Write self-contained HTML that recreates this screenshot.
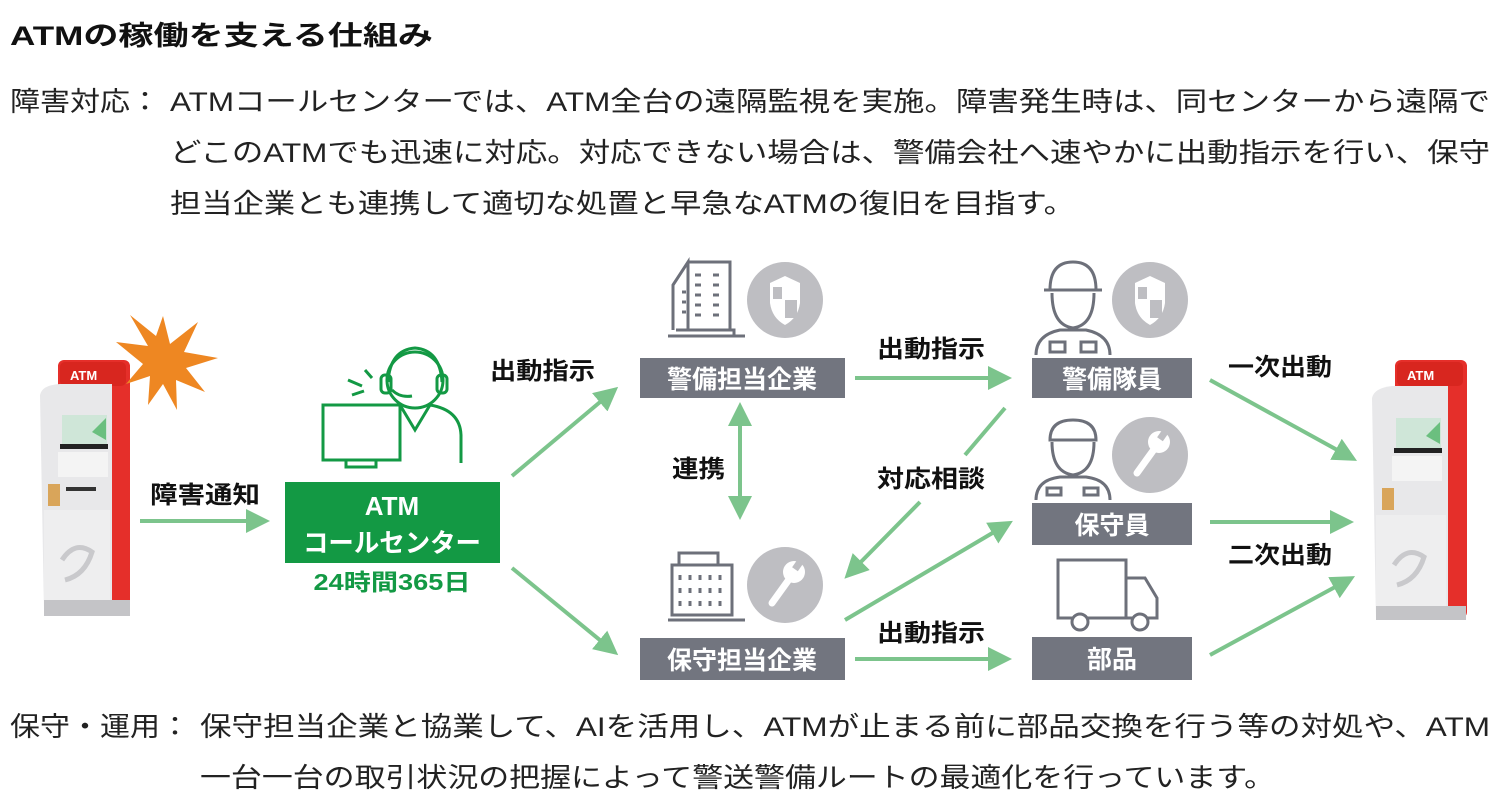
<!DOCTYPE html>
<html><head><meta charset="utf-8">
<style>
html,body{margin:0;padding:0;background:#fff;}
svg{display:block;}
text{font-family:"Liberation Sans","Noto Sans CJK JP",sans-serif;}
</style></head>
<body>
<svg width="1500" height="808" viewBox="0 0 1500 808" xmlns="http://www.w3.org/2000/svg">
<defs>
<marker id="ah" markerWidth="6" markerHeight="6" refX="4" refY="3" orient="auto" markerUnits="strokeWidth">
<path d="M0,0 L6,3 L0,6 Z" fill="#7cc48c"/>
</marker>
<marker id="ahs" markerWidth="6" markerHeight="6" refX="2" refY="3" orient="auto-start-reverse" markerUnits="strokeWidth">
<path d="M0,0 L6,3 L0,6 Z" fill="#7cc48c"/>
</marker>
</defs>

<text x="10" y="45" font-size="27" font-weight="bold" fill="#111" textLength="423" lengthAdjust="spacingAndGlyphs">ATMの稼働を支える仕組み</text>

<g font-size="27" fill="#222">
<text x="10" y="111" textLength="150" lengthAdjust="spacingAndGlyphs">障害対応：</text>
<text x="170" y="111" textLength="1320" lengthAdjust="spacingAndGlyphs">ATMコールセンターでは、ATM全台の遠隔監視を実施。障害発生時は、同センターから遠隔で</text>
<text x="170" y="162" textLength="1320" lengthAdjust="spacingAndGlyphs">どこのATMでも迅速に対応。対応できない場合は、警備会社へ速やかに出動指示を行い、保守</text>
<text x="170" y="213" textLength="905" lengthAdjust="spacingAndGlyphs">担当企業とも連携して適切な処置と早急なATMの復旧を目指す。</text>
<text x="10" y="736" textLength="180" lengthAdjust="spacingAndGlyphs">保守・運用：</text>
<text x="200" y="736" textLength="1290" lengthAdjust="spacingAndGlyphs">保守担当企業と協業して、AIを活用し、ATMが止まる前に部品交換を行う等の対処や、ATM</text>
<text x="200" y="787" textLength="1075" lengthAdjust="spacingAndGlyphs">一台一台の取引状況の把握によって警送警備ルートの最適化を行っています。</text>
</g>

<!-- Left ATM -->
<g>
<rect x="58" y="360" width="72" height="250" rx="6" fill="#e52f2a"/>
<rect x="60" y="362" width="66" height="24" rx="5" fill="#d8261f"/>
<text x="70" y="380" font-size="13" font-weight="bold" fill="#fff">ATM</text>
<path d="M40,395 Q42,385 60,384 L112,384 L112,610 L44,610 Z" fill="#e8e8ea"/>
<rect x="62" y="415" width="45" height="32" fill="#cfe6d8"/>
<path d="M92,432 L106,418 L106,440 Z" fill="#6bbf7f"/>
<rect x="60" y="444" width="48" height="5" fill="#222"/>
<rect x="58" y="452" width="50" height="25" fill="#f4f4f4"/>
<rect x="48" y="484" width="12" height="22" fill="#d9a55a"/>
<rect x="66" y="487" width="30" height="4" fill="#333"/>
<rect x="44" y="510" width="66" height="90" fill="#eeeeef"/>
<path d="M62,560 Q75,540 92,552 Q85,575 65,580" fill="none" stroke="#c9c9cc" stroke-width="5"/>
<rect x="44" y="600" width="86" height="16" fill="#c4c4c7"/>
</g>
<polygon fill="#ee8722" points="163,316 170,344 198,322 184,352 218,358 186,368 205,392 176,380 177,410 163,384 148,405 150,376 126,384 143,364 116,342 148,346 130,315 156,336" />

<!-- Right ATM -->
<g>
<rect x="1395" y="360" width="72" height="258" rx="6" fill="#e52f2a"/>
<rect x="1397" y="362" width="66" height="24" rx="5" fill="#d8261f"/>
<text x="1407" y="380" font-size="13" font-weight="bold" fill="#fff">ATM</text>
<path d="M1372,398 Q1374,388 1392,386 L1448,386 L1448,618 L1376,618 Z" fill="#e8e8ea"/>
<rect x="1396" y="418" width="45" height="32" fill="#cfe6d8"/>
<path d="M1426,436 L1440,422 L1440,444 Z" fill="#6bbf7f"/>
<rect x="1394" y="448" width="48" height="5" fill="#222"/>
<rect x="1392" y="456" width="50" height="25" fill="#f4f4f4"/>
<rect x="1382" y="488" width="12" height="22" fill="#d9a55a"/>
<rect x="1376" y="515" width="70" height="92" fill="#eeeeef"/>
<path d="M1394,565 Q1407,545 1424,557 Q1417,580 1397,585" fill="none" stroke="#c9c9cc" stroke-width="5"/>
<rect x="1376" y="606" width="90" height="14" fill="#c4c4c7"/>
</g>

<!-- Call center icon -->
<g fill="none" stroke="#139944" stroke-width="3">
<rect x="323" y="405" width="77" height="55"/>
<rect x="346" y="460" width="30" height="7"/>
<circle cx="415" cy="380" r="28"/>
<path d="M388,382 Q390,350 415,348 Q440,350 442,382"/>
<rect x="381" y="375" width="10" height="18" rx="4"/>
<rect x="437" y="375" width="10" height="18" rx="4"/>
<path d="M392,390 Q400,398 412,396"/>
<path d="M400,405 L415,430 L430,405"/>
<path d="M430,405 Q460,410 461,435 L461,463"/>
<path d="M365,370 L372,378 M348,380 L362,386 M352,395 L364,391"/>
</g>
<rect x="285" y="482" width="215" height="81" fill="#139944"/>
<text x="392" y="515" font-size="26" font-weight="bold" fill="#fff" text-anchor="middle">ATM</text>
<text x="392" y="552" font-size="26" font-weight="bold" fill="#fff" text-anchor="middle" textLength="178" lengthAdjust="spacingAndGlyphs">コールセンター</text>
<text x="392" y="590" font-size="23" font-weight="bold" fill="#139944" text-anchor="middle" textLength="157" lengthAdjust="spacingAndGlyphs">24時間365日</text>

<g fill="#72757f">
<rect x="640" y="358" width="205" height="40"/>
<rect x="640" y="638" width="205" height="42"/>
<rect x="1032" y="358" width="160" height="40"/>
<rect x="1032" y="503" width="160" height="42"/>
<rect x="1032" y="637" width="160" height="43"/>
</g>
<g font-size="25" font-weight="bold" fill="#fff" text-anchor="middle">
<text x="742" y="388">警備担当企業</text>
<text x="742" y="669">保守担当企業</text>
<text x="1112" y="388">警備隊員</text>
<text x="1112" y="534">保守員</text>
<text x="1112" y="668">部品</text>
</g>

<g fill="none" stroke="#6d707a" stroke-width="3">
<path d="M673,330 L673,285 L688,262 L688,330 M688,262 L730,262 L730,330"/>
<path d="M668,336 L745,336 M676,330 L734,330 L734,336"/>
<path d="M682,292 h4 M682,302 h4 M682,312 h4 M695,275 h6 M695,285 h6 M695,295 h6 M695,305 h6 M695,315 h6 M713,275 h6 M713,285 h6 M713,295 h6 M713,305 h6 M713,315 h6"/>
<rect x="672" y="565" width="60" height="50"/>
<path d="M679,565 L679,553 L718,553 L718,565 M668,620 L745,620"/>
<path d="M680,575 v5 M690,575 v5 M700,575 v5 M710,575 v5 M720,575 v5 M680,588 v5 M690,588 v5 M700,588 v5 M710,588 v5 M720,588 v5 M680,601 v5 M690,601 v5 M700,601 v5 M710,601 v5 M720,601 v5"/>
<path d="M1050,290 Q1050,262 1073,262 Q1096,262 1096,290 M1044,290 L1102,290"/>
<path d="M1052,293 Q1052,325 1073,328 Q1094,325 1094,293"/>
<path d="M1036,355 Q1036,335 1060,330 L1086,330 Q1110,335 1110,355"/>
<rect x="1050" y="342" width="15" height="10"/><rect x="1081" y="342" width="15" height="10"/>
<path d="M1050,440 Q1050,420 1073,420 Q1096,420 1096,440 Z"/>
<path d="M1052,442 Q1052,472 1073,475 Q1094,472 1094,442"/>
<path d="M1036,500 Q1036,480 1060,477 L1086,477 Q1110,480 1110,500"/>
<rect x="1047" y="488" width="14" height="7"/><rect x="1084" y="488" width="14" height="7"/>
<rect x="1058" y="560" width="68" height="58"/>
<path d="M1126,578 L1145,578 L1157,598 L1157,618 L1126,618"/>
<circle cx="1080" cy="622" r="8" fill="#fff"/><circle cx="1140" cy="622" r="8" fill="#fff"/>
</g>
<g fill="#bebec2">
<circle cx="785" cy="300" r="38"/>
<circle cx="785" cy="585" r="38"/>
<circle cx="1150" cy="300" r="38"/>
<circle cx="1150" cy="455" r="38"/>
</g>
<g fill="#fff">
<path d="M770,283 L785,276 L800,283 L800,303 Q798,318 785,325 Q772,318 770,303 Z"/>
<path d="M1135,283 L1150,276 L1165,283 L1165,303 Q1163,318 1150,325 Q1137,318 1135,303 Z"/>
</g>
<g fill="#bebec2"><rect x="785" y="300" width="12" height="18"/><rect x="773" y="287" width="9" height="12"/>
<rect x="1150" y="300" width="12" height="18"/><rect x="1138" y="287" width="9" height="12"/></g>
<g stroke="#fff" stroke-width="7" stroke-linecap="round" fill="none">
<path d="M772,603 L790,578"/><path d="M1137,473 L1155,448"/>
</g>
<g fill="#fff"><circle cx="794" cy="572" r="11"/><circle cx="1159" cy="442" r="11"/></g>
<g fill="#bebec2"><rect x="795" y="558" width="7" height="12" transform="rotate(35 798 564)"/><rect x="1160" y="428" width="7" height="12" transform="rotate(35 1163 434)"/></g>

<g stroke="#7cc48c" stroke-width="4" fill="none" marker-end="url(#ah)">
<line x1="140" y1="521" x2="262" y2="521"/>
<line x1="512" y1="476" x2="612" y2="392"/>
<line x1="512" y1="568" x2="612" y2="650"/>
<line x1="740" y1="418" x2="740" y2="512" marker-start="url(#ahs)"/>
<line x1="855" y1="378" x2="1004" y2="378"/>
<line x1="855" y1="659" x2="1004" y2="659"/>
<line x1="920" y1="502" x2="850" y2="573"/>
<line x1="845" y1="620" x2="1006" y2="525"/>
<line x1="1210" y1="380" x2="1350" y2="457"/>
<line x1="1210" y1="522" x2="1346" y2="522"/>
<line x1="1210" y1="655" x2="1348" y2="580"/>
</g>
<line x1="1005" y1="408" x2="965" y2="455" stroke="#7cc48c" stroke-width="4"/>

<g font-size="24" font-weight="bold" fill="#111">
<text x="150" y="503" textLength="110" lengthAdjust="spacingAndGlyphs">障害通知</text>
<text x="490" y="379" textLength="105" lengthAdjust="spacingAndGlyphs">出動指示</text>
<text x="672" y="477" textLength="53" lengthAdjust="spacingAndGlyphs">連携</text>
<text x="877" y="357" textLength="108" lengthAdjust="spacingAndGlyphs">出動指示</text>
<text x="877" y="487" textLength="108" lengthAdjust="spacingAndGlyphs">対応相談</text>
<text x="877" y="641" textLength="108" lengthAdjust="spacingAndGlyphs">出動指示</text>
<text x="1228" y="375" textLength="104" lengthAdjust="spacingAndGlyphs">一次出動</text>
<text x="1228" y="563" textLength="104" lengthAdjust="spacingAndGlyphs">二次出動</text>
</g>
</svg>
</body></html>
